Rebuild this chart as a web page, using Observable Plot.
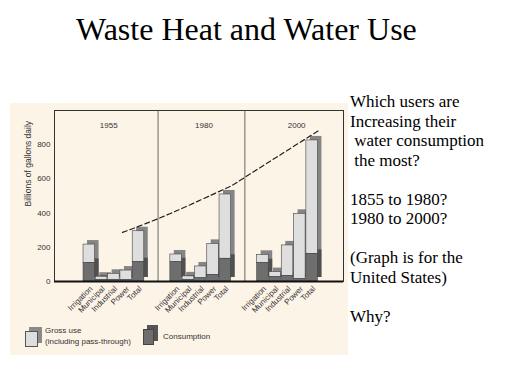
<!DOCTYPE html>
<html>
<head>
<meta charset="utf-8">
<script src="https://cdn.jsdelivr.net/npm/d3@7"></script>
<script src="https://cdn.jsdelivr.net/npm/@observablehq/plot@0.6"></script>
<style>
  html, body { margin: 0; padding: 0; background: #ffffff; }
  body { position: relative; width: 512px; height: 384px; overflow: hidden; font-family: "Liberation Serif", "Times New Roman", serif; color: #000; }
  #title { position: absolute; left: 76px; top: 12.5px; font-size: 32px; line-height: 32px; white-space: nowrap; }
  #side { position: absolute; left: 350px; top: 92px; font-size: 17px; line-height: 19.5px; white-space: pre; }
  #chart { position: absolute; left: 10px; top: 103px; width: 338px; height: 252px; background: #fdf4e8; }
  #chart svg { display: block; }
  .sw { position: absolute; box-sizing: border-box; }
  .lg { position: absolute; font-family: "Liberation Sans", Arial, sans-serif; font-size: 8px; line-height: 11.3px; color: #333; white-space: nowrap; }
</style>
</head>
<body>
<div id="title">Waste Heat and Water Use</div>
<div id="chart"></div>
<div id="side"></div>
<div class="sw" style="left:29px;top:327px;width:13px;height:16px;background:#8a8a8a;"></div>
<div class="sw" style="left:25px;top:331px;width:13px;height:16px;background:#dedede;border:1px solid #555;"></div>
<div class="lg" style="left:45px;top:325px;">Gross use<br>(including pass-through)</div>
<div class="sw" style="left:147px;top:325px;width:11px;height:16px;background:#555;"></div>
<div class="sw" style="left:143px;top:329px;width:11px;height:16px;background:#6e6e6e;border:1px solid #444;"></div>
<div class="lg" style="left:163px;top:331px;">Consumption</div>
<script>
// ---- data ----
const years = ["1955", "1980", "2000"];
const categories = ["Irrigation", "Municipal", "Industrial", "Power", "Total"];
const gross1955 = [216, 28, 45, 64, 294];
const cons1955  = [109, 10, 10, 8, 113];
const gross1980 = [158, 30, 88, 220, 509];
const cons1980  = [113, 10, 19, 39, 133];
const gross2000 = [156, 55, 211, 396, 825];
const cons2000  = [107, 25, 31, 15, 162];
const yTicks = [0, 200, 400, 600, 800];
const yLabel = "Billions of gallons daily";
// dashed trend curve (x in bar-slot units, y in billions of gallons daily)
const trendAt    = [5.53, 9.43, 13.74, 15.45, 21.63];
const trendValue = [287, 398, 538, 608, 889];
const sideLines = [
  "Which users are",
  "Increasing their",
  " water consumption",
  " the most?",
  "",
  "1855 to 1980?",
  "1980 to 2000?",
  "",
  "(Graph is for the",
  "United States)",
  "",
  "Why?"
];

document.getElementById("side").textContent = sideLines.join("\n");

// ---- layout helpers ----
const grossBy = [gross1955, gross1980, gross2000];
const consBy = [cons1955, cons1980, cons2000];
const groupStart = g => 2.36 + g * 7.06;
const barW = 0.94;
const bars = years.flatMap((yr, g) => categories.map((c, i) => ({
  year: yr, category: c, x: groupStart(g) + i, gross: grossBy[g][i], cons: consBy[g][i]
})));
const bounds = [0, groupStart(1) - 1, groupStart(2) - 1, 23.5];
const dividers = [bounds[1], bounds[2]];
const yearLabels = years.map((yr, g) => ({year: yr, x: (bounds[g] + bounds[g + 1]) / 2 + 0.2}));
const trend = trendAt.map((x, i) => ({x, y: trendValue[i]}));

const chart = Plot.plot({
  width: 338,
  height: 252,
  marginLeft: 44,
  marginRight: 5,
  marginTop: 7,
  marginBottom: 74,
  x: {domain: [0, 23.5], axis: null},
  y: {domain: [0, 1000], axis: null},
  style: {background: "transparent", fontFamily: "Liberation Sans, Arial, sans-serif", color: "#333"},
  marks: [
    Plot.frame({stroke: "#333", strokeWidth: 1}),
    Plot.ruleX(dividers, {y1: 0, y2: 1000, stroke: "#444", strokeWidth: 0.8}),
    // 3D back faces (top + side)
    Plot.rectY(bars, {x1: "x", x2: d => d.x + barW, y1: 0, y2: "gross", dx: 4, dy: -4, fill: "#858585"}),
    Plot.rectY(bars, {x1: "x", x2: d => d.x + barW, y1: 0, y2: "cons", dx: 4, dy: -4, fill: "#505050"}),
    // front faces
    Plot.rectY(bars, {x1: "x", x2: d => d.x + barW, y1: "cons", y2: "gross", fill: "#dedede", stroke: "#444", strokeWidth: 0.6}),
    Plot.rectY(bars, {x1: "x", x2: d => d.x + barW, y1: 0, y2: "cons", fill: "#6e6e6e", stroke: "#444", strokeWidth: 0.6}),
    Plot.ruleY([0], {stroke: "#111", strokeWidth: 2}),
    Plot.line(trend, {x: "x", y: "y", curve: "natural", stroke: "#222", strokeWidth: 1.2, strokeDasharray: "5,3"}),
    Plot.text(yearLabels, {x: "x", y: 913, text: "year", fontSize: 8, fill: "#333"}),
    Plot.text(bars, {x: d => d.x + barW / 2, y: 0, text: "category", rotate: -45, textAnchor: "end", dx: 2, dy: 6, fontSize: 8, fill: "#333"}),
    Plot.axisY({ticks: yTicks, tickSize: 0, tickPadding: 4, label: null, fontSize: 8, fill: "#333"}),
    Plot.text([yLabel], {frameAnchor: "left", rotate: -90, dx: -26, dy: 10.5, fontSize: 8.5, fill: "#333"})
  ]
});
document.getElementById("chart").appendChild(chart);
</script>
</body>
</html>
